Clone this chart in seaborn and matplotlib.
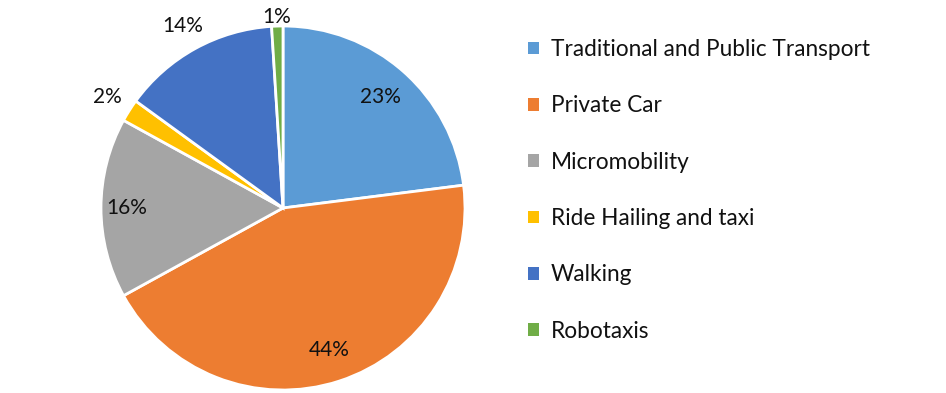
import numpy as np
import matplotlib
matplotlib.use("Agg")
import matplotlib.pyplot as plt
import seaborn as sns
from matplotlib.patches import Patch

sns.set_theme(style="white")
plt.rcParams['font.family'] = ['Lato', 'DejaVu Sans']

categories = ["Traditional and Public Transport", "Private Car", "Micromobility",
              "Ride Hailing and taxi", "Walking", "Robotaxis"]
values = [23, 44, 16, 2, 14, 1]
labels = ["23%", "44%", "16%", "2%", "14%", "1%"]
colors = ["#5B9BD5", "#ED7D31", "#A5A5A5", "#FFC000", "#4472C4", "#70AD47"]
label_dist = [0.81, 0.82, 0.86, 1.14, 1.14, 1.05]

W, H = 946, 393
fig = plt.figure(figsize=(W / 100, H / 100), dpi=100)
cx, cy, r = 283, 208, 182
ax = fig.add_axes([(cx - r) / W, (H - cy - r) / H, 2 * r / W, 2 * r / H])

wedges, _ = ax.pie(values, colors=colors, startangle=90, counterclock=False,
                   radius=1, wedgeprops=dict(edgecolor="white", linewidth=2))
ax.set_xlim(-1, 1)
ax.set_ylim(-1, 1)
ax.set_aspect("equal")
ax.axis("off")
for w in wedges:
    w.set_clip_on(False)

for w, lab, d in zip(wedges, labels, label_dist):
    ang = np.deg2rad((w.theta1 + w.theta2) / 2)
    ax.text(d * np.cos(ang), d * np.sin(ang), lab, ha="center", va="center",
            fontsize=15, color="#111111", clip_on=False)

handles = [Patch(facecolor=c, edgecolor="none") for c in colors]
fig.legend(handles, categories, loc="upper left", bbox_to_anchor=(519 / W, 1 - 30 / H),
           frameon=False, fontsize=16.3, handlelength=0.5, handleheight=0.5,
           handletextpad=0.5, labelspacing=1.56, borderaxespad=0,
           labelcolor="#111111")

fig.savefig("out.png", dpi=100)
